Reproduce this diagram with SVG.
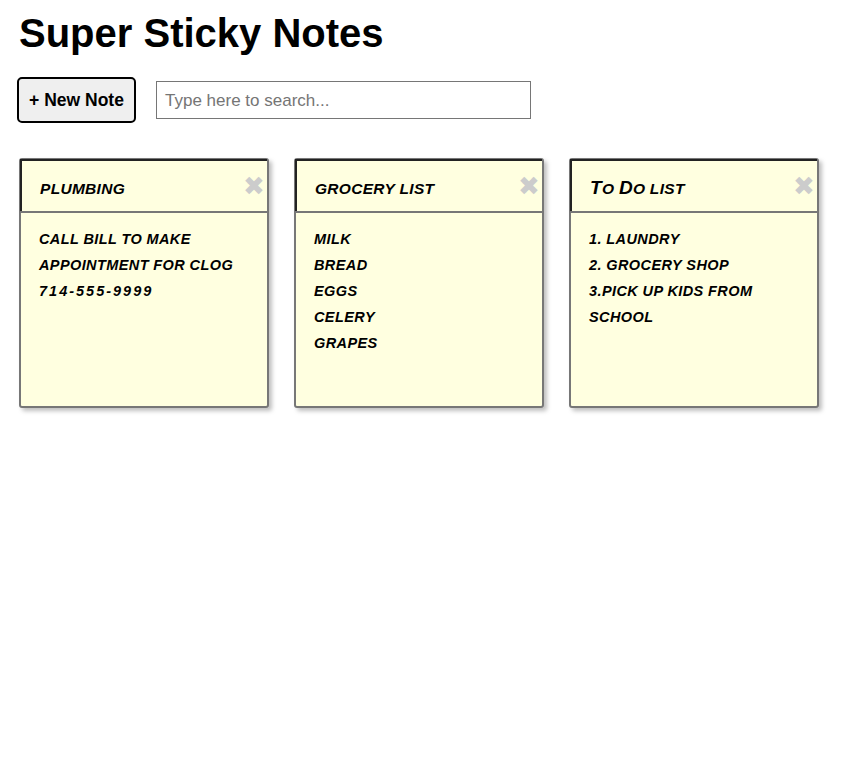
<svg xmlns="http://www.w3.org/2000/svg" width="842" height="773" viewBox="0 0 842 773">
<style>
.title{font-family:"Liberation Sans",Arial,sans-serif;font-weight:bold;font-size:40px;fill:#000}
.btn{fill:#efefef;stroke:#000;stroke-width:2}
.btntxt{font-family:"Liberation Sans",Arial,sans-serif;font-weight:bold;font-size:17.5px;fill:#000}
.search{fill:#fff;stroke:#767676;stroke-width:1}
.ph{font-family:"Liberation Sans",Arial,sans-serif;font-size:17px;fill:#757575}
.note{fill:#ffffe0;stroke:#777;stroke-width:2}
.hdr{fill:none;stroke:#222;stroke-width:2}
.hline{stroke:#777;stroke-width:2}
.nt{font-family:"Liberation Sans",Arial,sans-serif;font-weight:bold;font-style:italic;text-transform:uppercase;font-size:15.5px;fill:#000;letter-spacing:0.3px}
.nb{font-family:"Liberation Sans",Arial,sans-serif;font-weight:bold;font-style:italic;text-transform:uppercase;font-size:14.5px;fill:#000;letter-spacing:0.4px}
.big{font-size:19px}
.num{letter-spacing:2px}
.x{font-family:"DejaVu Sans",sans-serif;font-weight:bold;font-size:26px;fill:#ccc}
</style>
<defs>
<filter id="sh" x="-10%" y="-10%" width="130%" height="130%">
<feDropShadow dx="3" dy="3" stdDeviation="2" flood-color="#000" flood-opacity="0.25"/>
</filter>
</defs>
<rect width="842" height="773" fill="#fff"/>
<text class="title" x="19" y="47">Super Sticky Notes</text>
<g id="new-note">
<rect class="btn" x="18" y="78" width="117" height="44" rx="4"/>
<text class="btntxt" x="76.5" y="106" text-anchor="middle">+ New Note</text>
</g>
<g id="search">
<rect class="search" x="156.5" y="81.5" width="374" height="37"/>
<text class="ph" x="165" y="106">Type here to search...</text>
</g>
<g id="note-plumbing">
<rect class="note" x="20" y="159" width="248" height="248" rx="2" filter="url(#sh)"/>
<path class="hdr" d="M21 212 V160 H267"/>
<line class="hline" x1="20" y1="212" x2="268" y2="212"/>
<text class="nt" x="40" y="194">plumbing</text>
<text class="x" x="254" y="195" text-anchor="middle">✖</text>
<text class="nb" x="39" y="244">call bill to make</text>
<text class="nb" x="39" y="270">appointment for clog</text>
<text class="nb num" x="39" y="296">714-555-9999</text>
</g>
<g id="note-grocery">
<rect class="note" x="295" y="159" width="248" height="248" rx="2" filter="url(#sh)"/>
<path class="hdr" d="M296 212 V160 H542"/>
<line class="hline" x1="295" y1="212" x2="543" y2="212"/>
<text class="nt" x="315" y="194">grocery list</text>
<text class="x" x="529" y="195" text-anchor="middle">✖</text>
<text class="nb" x="314" y="244">milk</text>
<text class="nb" x="314" y="270">bread</text>
<text class="nb" x="314" y="296">eggs</text>
<text class="nb" x="314" y="322">celery</text>
<text class="nb" x="314" y="348">grapes</text>
</g>
<g id="note-todo">
<rect class="note" x="570" y="159" width="248" height="248" rx="2" filter="url(#sh)"/>
<path class="hdr" d="M571 212 V160 H817"/>
<line class="hline" x1="570" y1="212" x2="818" y2="212"/>
<text class="nt" x="590" y="194"><tspan class="big">T</tspan>o <tspan class="big">D</tspan>o list</text>
<text class="x" x="804" y="195" text-anchor="middle">✖</text>
<text class="nb" x="589" y="244">1. laundry</text>
<text class="nb" x="589" y="270">2. grocery shop</text>
<text class="nb" x="589" y="296">3.pick up kids from</text>
<text class="nb" x="589" y="322">school</text>
</g>
</svg>
